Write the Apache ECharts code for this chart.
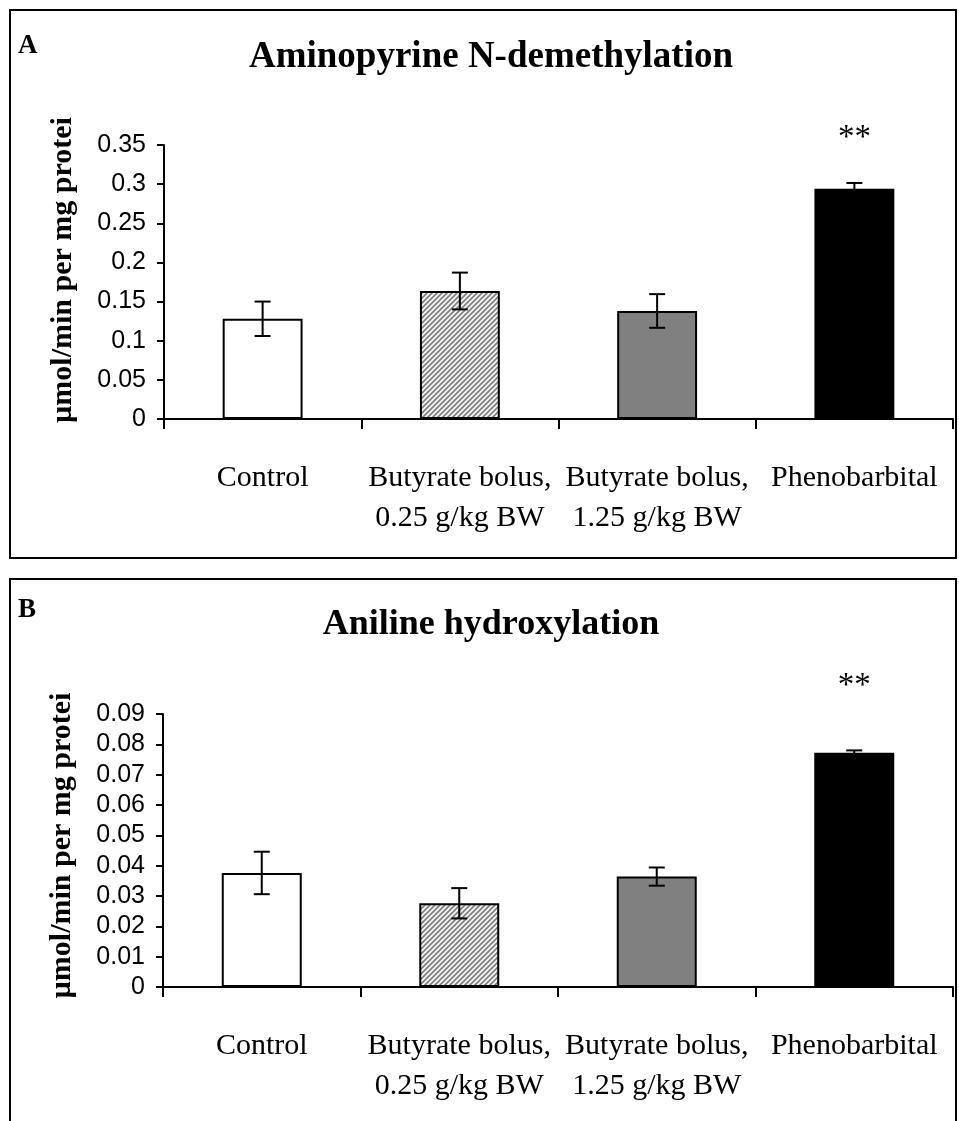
<!DOCTYPE html>
<html>
<head>
<meta charset="utf-8">
<script src="https://cdn.jsdelivr.net/npm/echarts@6/dist/echarts.min.js"></script>
<style>
  html, body { margin: 0; padding: 0; background: #fff; }
  #chart { width: 959px; height: 1121px; }
</style>
</head>
<body>
<div id="chart"></div>
<script>
// categories and values
const categories = ['Control', 'Butyrate bolus,\n0.25 g/kg BW', 'Butyrate bolus,\n1.25 g/kg BW', 'Phenobarbital'];
const aminoMeans = [0.128, 0.1635, 0.138, 0.294];
const aminoErrors = [0.022, 0.0235, 0.0215, 0.0075];
const anilineMeans = [0.0376, 0.0276, 0.0364, 0.0772];
const anilineErrors = [0.007, 0.005, 0.003, 0.0008];
const significance = ['', '', '', '**'];
const aminoAxis = { max: 0.35, step: 0.05 };
const anilineAxis = { max: 0.09, step: 0.01 };
const yTitle = 'µmol/min per mg protein';

function hatch() {
  const c = document.createElement('canvas');
  c.width = 5; c.height = 5;
  const ctx = c.getContext('2d');
  ctx.fillStyle = '#f4f4f4';
  ctx.fillRect(0, 0, 5, 5);
  ctx.strokeStyle = '#808080';
  ctx.lineWidth = 1.7;
  ctx.beginPath();
  ctx.moveTo(-1, 6); ctx.lineTo(6, -1);
  ctx.moveTo(-1, 1); ctx.lineTo(1, -1);
  ctx.moveTo(4, 6); ctx.lineTo(6, 4);
  ctx.stroke();
  return c;
}

const fills = ['#ffffff', { image: hatch(), repeat: 'repeat' }, '#808080', '#000000'];

const chart = echarts.init(document.getElementById('chart'));

function xAxis(grid) {
  return {
    type: 'category', gridIndex: grid, data: categories,
    axisLine: { show: true, lineStyle: { color: '#000', width: 2 } },
    axisTick: { show: true, alignWithLabel: false, length: 10, lineStyle: { color: '#000', width: 2 } },
    axisLabel: {
      interval: 0, margin: 39, color: '#000',
      fontFamily: 'Liberation Serif', fontSize: 30, lineHeight: 40
    }
  };
}

function yAxis(grid, ax, pad) {
  return {
    type: 'value', gridIndex: grid, min: 0, max: ax.max, interval: ax.step,
    name: yTitle, nameLocation: 'middle', nameRotate: 90, nameGap: 86,
    nameTruncate: { maxWidth: 318, ellipsis: '' },
    nameTextStyle: {
      fontFamily: 'Liberation Serif', fontWeight: 'bold', fontSize: 30, color: '#000',
      padding: pad
    },
    axisLine: { show: true, lineStyle: { color: '#000', width: 2 } },
    axisTick: { show: true, length: 7, lineStyle: { color: '#000', width: 2 } },
    axisLabel: { margin: 18, color: '#000', fontFamily: 'Liberation Sans', fontSize: 25 },
    splitLine: { show: false }
  };
}

function barSeries(idx, means, dist) {
  return {
    type: 'bar', xAxisIndex: idx, yAxisIndex: idx, barWidth: '40.5%',
    data: means.map((v, i) => ({ value: v, itemStyle: { color: fills[i] } })),
    itemStyle: { borderColor: '#000', borderWidth: 2 },
    label: {
      show: true, position: 'top', distance: dist,
      formatter: p => significance[p.dataIndex],
      fontFamily: 'Liberation Serif', fontSize: 33, color: '#000'
    },
    animation: false
  };
}

function errorSeries(idx, means, errors) {
  return {
    type: 'custom', xAxisIndex: idx, yAxisIndex: idx, z: 5,
    data: means.map((m, i) => [i, m - errors[i], m + errors[i]]),
    renderItem: (params, api) => {
      const lo = api.coord([api.value(0), api.value(1)]);
      const hi = api.coord([api.value(0), api.value(2)]);
      const half = 8;
      const style = { stroke: '#000', lineWidth: 2 };
      return {
        type: 'group',
        children: [
          { type: 'line', shape: { x1: hi[0], y1: hi[1], x2: lo[0], y2: lo[1] }, style },
          { type: 'line', shape: { x1: hi[0] - half, y1: hi[1], x2: hi[0] + half, y2: hi[1] }, style },
          { type: 'line', shape: { x1: lo[0] - half, y1: lo[1], x2: lo[0] + half, y2: lo[1] }, style }
        ]
      };
    },
    animation: false
  };
}

const letterFont = 'bold 27px "Liberation Serif"';

chart.setOption({
  backgroundColor: '#fff',
  animation: false,
  graphic: [
    { type: 'rect', shape: { x: 10, y: 10, width: 946, height: 548 }, style: { fill: 'none', stroke: '#000', lineWidth: 2 } },
    { type: 'rect', shape: { x: 10, y: 579, width: 946, height: 600 }, style: { fill: 'none', stroke: '#000', lineWidth: 2 } },
    { type: 'text', x: 18, y: 46, style: { text: 'A', font: letterFont, fill: '#000', align: 'left', verticalAlign: 'middle' } },
    { type: 'text', x: 18, y: 610, style: { text: 'B', font: letterFont, fill: '#000', align: 'left', verticalAlign: 'middle' } },
    { type: 'text', x: 491, y: 57, style: { text: 'Aminopyrine N-demethylation', font: 'bold 37px "Liberation Serif"', fill: '#000', align: 'center', verticalAlign: 'middle' } },
    { type: 'text', x: 491, y: 625, style: { text: 'Aniline hydroxylation', font: 'bold 36px "Liberation Serif"', fill: '#000', align: 'center', verticalAlign: 'middle' } }
  ],
  grid: [
    { left: 164, top: 145, width: 789, height: 274 },
    { left: 163, top: 714, width: 790, height: 273 }
  ],
  xAxis: [xAxis(0), xAxis(1)],
  yAxis: [yAxis(0, aminoAxis, [0, 0, 0, 24]), yAxis(1, anilineAxis, [0, 0, 0, 10])],
  series: [
    barSeries(0, aminoMeans, 34),
    errorSeries(0, aminoMeans, aminoErrors),
    barSeries(1, anilineMeans, 50),
    errorSeries(1, anilineMeans, anilineErrors)
  ]
});
</script>
</body>
</html>
